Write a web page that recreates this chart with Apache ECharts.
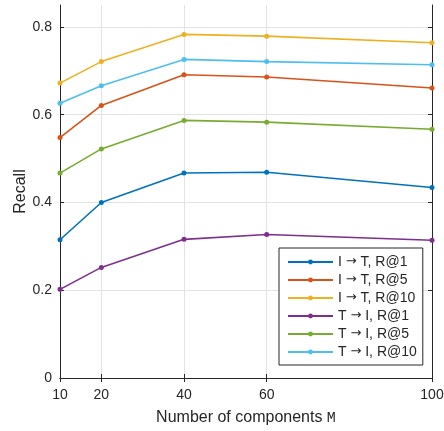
<!DOCTYPE html>
<html>
<head>
    <meta charset="UTF-8" />
    <title>Recall vs number of components</title>
    <script src="https://cdn.jsdelivr.net/npm/echarts@6/dist/echarts.min.js"></script>
    <style>
        html, body { margin: 0; padding: 0; background: #fff; }
        #main { width: 444px; height: 431px; }
    </style>
</head>
<body>
<div id="main"></div>
<script>
var chartDom = document.getElementById('main');
var myChart = echarts.init(chartDom);

// number of components M
var components = [10, 20, 40, 60, 100];
var yTicks = [0, 0.2, 0.4, 0.6, 0.8];

// recall values
var itR1  = [0.315, 0.400, 0.467, 0.469, 0.434];
var itR5  = [0.548, 0.621, 0.691, 0.686, 0.661];
var itR10 = [0.672, 0.721, 0.783, 0.779, 0.764];
var tiR1  = [0.202, 0.252, 0.316, 0.327, 0.314];
var tiR5  = [0.467, 0.522, 0.587, 0.583, 0.567];
var tiR10 = [0.626, 0.666, 0.726, 0.721, 0.714];

var seriesNames = ['I \u2192 T, R@1', 'I \u2192 T, R@5', 'I \u2192 T, R@10',
                   'T \u2192 I, R@1', 'T \u2192 I, R@5', 'T \u2192 I, R@10'];
var seriesValues = [itR1, itR5, itR10, tiR1, tiR5, tiR10];
// MATLAB default line colours
var colors = ['#0072BD', '#D95319', '#EDB120', '#7E2F8E', '#77AC30', '#4DBEEE'];

var textColor = '#262626';
var font = 'Liberation Sans, Arial, sans-serif';

function pairs(vals) {
    return components.map(function (c, i) { return [c, vals[i]]; });
}

var series = seriesNames.map(function (name, k) {
    return {
        name: name,
        type: 'line',
        data: pairs(seriesValues[k]),
        symbol: 'circle',
        symbolSize: 5,
        lineStyle: { width: 1.6, color: colors[k] },
        itemStyle: { color: colors[k] },
        emphasis: { disabled: true },
        animation: false
    };
});

// shared axis look (MATLAB box style, ticks inside)
var xCommon = {
    type: 'value', min: 10, max: 100,
    axisLine: { lineStyle: { color: textColor, width: 1 } },
    axisTick: { inside: true, length: 4, customValues: components, lineStyle: { color: textColor } },
    splitLine: { show: false }
};
var yCommon = {
    type: 'value', min: 0, max: 0.85,
    axisLine: { show: true, lineStyle: { color: textColor, width: 1 } },
    axisTick: { show: true, inside: true, length: 4, customValues: yTicks, lineStyle: { color: textColor } },
    splitLine: { show: false }
};

var option = {
    backgroundColor: '#fff',
    color: colors,
    textStyle: { fontFamily: font },
    grid: { left: 60, right: 12, top: 5, bottom: 53, outerBoundsMode: 'none', containLabel: false },
    legend: {
        orient: 'vertical',
        left: 279,
        top: 248,
        itemWidth: 45,
        itemHeight: 6,
        itemGap: 2,
        padding: [6, 6, 5, 8],
        borderColor: textColor,
        borderWidth: 1,
        backgroundColor: '#fff',
        formatter: function (name) {
            var p = name.split(' \u2192 ');
            return p[0] + ' {a|\u2192} ' + p[1];
        },
        textStyle: {
            fontSize: 14, color: textColor, fontFamily: font, lineHeight: 16,
            rich: { a: { fontSize: 13, fontFamily: 'DejaVu Sans', color: textColor, lineHeight: 16 } }
        },
        data: seriesNames
    },
    xAxis: [
        Object.assign({}, xCommon, {
            position: 'bottom',
            name: 'Number of components {m|M}',
            nameLocation: 'middle',
            nameGap: 32,
            nameMoveOverlap: false,
            nameTextStyle: {
                fontSize: 16, color: textColor, fontFamily: font,
                rich: { m: { fontSize: 15, fontFamily: 'Liberation Mono, monospace', color: textColor } }
            },
            axisLabel: { customValues: components, fontSize: 14, color: textColor, margin: 10, fontFamily: font },
            splitLine: { show: true, lineStyle: { color: '#e3e3e3', width: 1 } }
        }),
        Object.assign({}, xCommon, { position: 'top', axisLabel: { show: false } })
    ],
    yAxis: [
        Object.assign({}, yCommon, {
            position: 'left',
            name: 'Recall',
            nameLocation: 'middle',
            nameGap: 31,
            nameMoveOverlap: false,
            nameTextStyle: { fontSize: 16, color: textColor, fontFamily: font },
            axisLabel: {
                customValues: yTicks, fontSize: 14, color: textColor, margin: 8, fontFamily: font,
                formatter: function (v) { return v === 0 ? '0' : v.toFixed(1); }
            },
            splitLine: { show: true, lineStyle: { color: '#e3e3e3', width: 1 } }
        }),
        Object.assign({}, yCommon, { position: 'right', axisLabel: { show: false } })
    ],
    series: series
};

myChart.setOption(option);
</script>
</body>
</html>
